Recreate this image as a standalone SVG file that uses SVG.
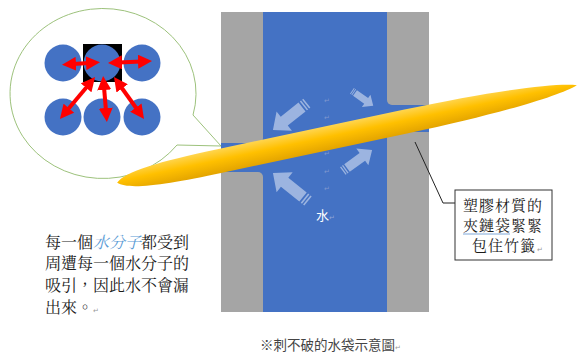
<svg xmlns="http://www.w3.org/2000/svg" width="577" height="358" viewBox="0 0 577 358">
  <defs>
    <style>
      .ming { font-family: "Noto Serif CJK TC", "Noto Sans CJK TC", "Liberation Serif", serif; }
      .sans { font-family: "Noto Sans CJK TC", "Liberation Sans", sans-serif; }
      .mark { font-family: "DejaVu Sans", sans-serif; font-size: 7px; }
      .wall { fill: #A5A5A5; }
      .mol { fill: #4472C4; }
      .pull { stroke: #FF0000; stroke-width: 4; fill: none; marker-start: url(#head); marker-end: url(#head); }
      .push { fill: #FFFFFF; fill-opacity: 0.47; }
    </style>
    <marker id="head" viewBox="0 0 14 14" refX="3" refY="7" markerWidth="14" markerHeight="14" markerUnits="userSpaceOnUse" orient="auto-start-reverse">
      <path d="M0,0 L14,7 L0,14 Z" fill="#FF0000"/>
    </marker>
    <linearGradient id="gold" x1="0" y1="0" x2="0" y2="1">
      <stop offset="0" stop-color="#FFD54F"/>
      <stop offset="0.45" stop-color="#FFC000"/>
      <stop offset="1" stop-color="#E3A400"/>
    </linearGradient>
    <!-- striped block arrow pointing along +x, tail at origin -->
    <g id="blk">
      <rect x="-6" y="-5.5" width="1.5" height="11"/>
      <rect x="-3.2" y="-5.5" width="1.5" height="11"/>
      <path d="M0,-5.5 H22 V-12 L36,0 L22,12 V5.5 H0 Z"/>
    </g>
  </defs>

  <rect width="577" height="358" fill="#FFFFFF"/>

  <!-- speech bubble with molecules -->
  <g id="bubble">
    <path d="M177,145 A93 85 0 1 1 193,115 L221,146 Z" fill="#FFFFFF" stroke="#9DC27C" stroke-width="1"/>
  </g>
  <g id="molecules">
    <rect x="83" y="44" width="39" height="38" fill="#000000"/>
    <circle class="mol" cx="63" cy="63" r="18.5"/>
    <circle class="mol" cx="102" cy="63" r="18.5"/>
    <circle class="mol" cx="142" cy="63" r="18.5"/>
    <circle class="mol" cx="63" cy="117" r="18.5"/>
    <circle class="mol" cx="102" cy="117" r="18.5"/>
    <circle class="mol" cx="142" cy="117" r="18.5"/>
  </g>

  <!-- bag cross-section -->
  <g id="bag">
    <rect x="221" y="12" width="208" height="300" fill="#4472C4"/>
    <path class="wall" d="M221,12 H263 V138 A5 5 0 0 1 258,143 H221 Z"/>
    <path class="wall" d="M221,172 H258 A5 5 0 0 1 263,177 V312 H221 Z"/>
    <path class="wall" d="M387,12 H429 V105 H392 A5 5 0 0 1 387,100 Z"/>
    <path class="wall" d="M392,132 H429 V312 H387 V137 A5 5 0 0 1 392,132 Z"/>
  </g>

  <g id="pressure" class="push">
    <use href="#blk" transform="translate(302,107) rotate(141.6) scale(1.03)"/>
    <use href="#blk" transform="translate(303,197) rotate(218.7) scale(1.07)"/>
    <use href="#blk" transform="translate(355,93) rotate(35.2) scale(0.62)"/>
    <use href="#blk" transform="translate(347,168) rotate(-35.8) scale(0.86)"/>
  </g>

  <g id="marks" class="mark" fill="#7F97CF">
    <text x="324" y="103">↵</text>
    <text x="324" y="120">↵</text>
    <text x="324" y="156">↵</text>
    <text x="324" y="174">↵</text>
    <text x="324" y="191">↵</text>
  </g>

  <g id="water-label">
    <text class="sans" x="316" y="220" font-size="13" fill="#FFFFFF">水</text>
    <text class="mark" x="329" y="220" fill="#8FA6D8">↵</text>
  </g>

  <!-- bamboo skewer -->
  <g id="skewer">
    <path transform="translate(347,134) rotate(-12)" fill="url(#gold)"
      d="M-235,0 C-225,-9.5 -190,-12 -130,-12 L60,-12 C150,-12 215,-7 235,0 C215,7 150,12 60,12 L-130,12 C-190,12 -225,9.5 -235,0 Z"/>
  </g>

  <!-- connectors: attraction arrows and callout leader -->
  <g id="connectors">
    <line class="pull" x1="73" y1="64" x2="89" y2="63"/>
    <line class="pull" x1="119" y1="62.5" x2="141" y2="61.5"/>
    <line class="pull" x1="88" y1="85.5" x2="67" y2="110.5"/>
    <line class="pull" x1="104" y1="87" x2="106" y2="111"/>
    <line class="pull" x1="120.4" y1="86" x2="137.6" y2="110"/>
    <polyline points="455,203 443,203 415,142" fill="none" stroke="#222222" stroke-width="1"/>
  </g>

  <g id="callout">
    <rect x="455" y="190" width="97" height="70" fill="#FFFFFF" stroke="#333333" stroke-width="1"/>
    <g class="ming" font-size="15" letter-spacing="1" fill="#1A1A1A">
      <text x="463" y="211">塑膠材質的</text>
      <text x="463" y="231">夾鏈袋緊緊</text>
      <text x="472" y="251">包住竹籤</text>
    </g>
    <line x1="463" y1="234" x2="510" y2="234" stroke="#7FA7D8" stroke-width="1"/>
    <text class="mark" x="537" y="252" font-size="6" fill="#999999">↵</text>
  </g>

  <g id="note" class="ming" font-size="16" fill="#1A1A1A">
    <text x="45" y="248">每一個<tspan fill="#5B9BD5" font-style="italic">水分子</tspan>都受到</text>
    <text x="45" y="269">周遭每一個水分子的</text>
    <text x="45" y="291">吸引，因此水不會漏</text>
    <text x="45" y="313">出來。</text>
    <text class="mark" x="93" y="313" fill="#999999">↵</text>
  </g>

  <g id="caption">
    <text class="sans" x="260" y="350" font-size="13.5" fill="#444444">※刺不破的水袋示意圖</text>
    <text class="mark" x="395" y="350" fill="#999999">↵</text>
  </g>
</svg>
